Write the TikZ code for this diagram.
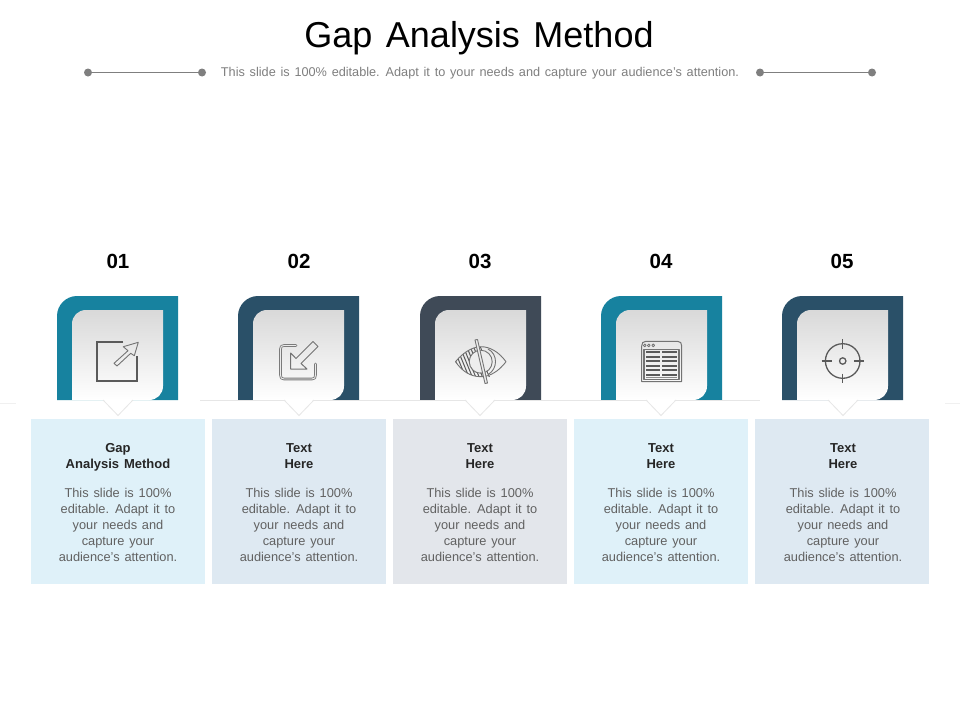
\documentclass[tikz,border=0pt]{standalone}
\usepackage{fontspec}
\setmainfont{Liberation Sans}[WordSpace=1.35]
\definecolor{teal}{HTML}{17829F}
\definecolor{navy}{HTML}{2A5068}
\definecolor{slate}{HTML}{3F4A57}
\definecolor{boxa}{HTML}{DFF1F9}
\definecolor{boxb}{HTML}{DEE9F2}
\definecolor{boxc}{HTML}{E3E6EB}
\definecolor{icon}{HTML}{5A5A5A}
\definecolor{rulegray}{HTML}{7F7F7F}
\definecolor{hair}{HTML}{E6E6E6}
\tikzset{
  x=1pt,y=-1pt,
  titletext/.style={font=\fontsize{36}{40}\selectfont,text=black,inner sep=0pt},
  subtext/.style={font=\fontsize{12.7}{14}\selectfont,text=rulegray,inner sep=0pt},
  numtext/.style={font=\fontsize{20.5}{24}\selectfont\bfseries,text=black,inner sep=0pt},
  headtext/.style={font=\fontsize{13}{16}\selectfont\bfseries,text=black!85,align=center,inner sep=0pt},
  bodytext/.style={font=\fontsize{12.8}{16}\selectfont,text=black!62,align=center,inner sep=0pt},
  dotnode/.style={circle,fill=rulegray,minimum size=8pt,inner sep=0pt},
  ruleline/.style={draw=rulegray,line width=1.1pt},
  hairline/.style={draw=hair,line width=0.8pt},
  iconbold/.style={draw=icon,line width=1.8pt},
  iconthin/.style={draw=icon!85,line width=0.9pt,line join=round},
}
\newcommand{\cardshape}[2]{% x, colour
  \fill[#2] (#1,400) -- (#1,316) .. controls (#1,305) and ({#1+9},296) .. ({#1+20},296)
    -- ({#1+121},296) -- ({#1+121},400) -- cycle;
  \path[top color=black!15,bottom color=white]
    ({#1+15},400) -- ({#1+15},324) .. controls ({#1+15},316) and ({#1+21},310) .. ({#1+29},310)
    -- ({#1+106},310) -- ({#1+106},386) .. controls ({#1+106},394) and ({#1+100},400) .. ({#1+92},400) -- cycle;
}
\newcommand{\notch}[1]{%
  \fill[white] ({#1-15},399) -- ({#1+15},399) -- (#1,415.5) -- cycle;
  \draw[hairline] ({#1-15},400) -- (#1,415.5) -- ({#1+15},400);
}
\begin{document}
\begin{tikzpicture}
\useasboundingbox (0,0) rectangle (960,720);
\fill[white] (0,0) rectangle (960,720);

\node[titletext] (title) at (479,38.5) {Gap Analysis Method};
\node[subtext] (sub) at (480,73.5) {This slide is 100\% editable. Adapt it to your needs and capture your audience's attention.};
\node[dotnode] (la) at (88,72.5) {};
\node[dotnode] (lb) at (202,72.5) {};
\node[dotnode] (ra) at (760,72.5) {};
\node[dotnode] (rb) at (872,72.5) {};
\draw[ruleline] (la) -- (lb);
\draw[ruleline] (ra) -- (rb);

\node[numtext] (n1) at (118,261.5) {01};
\node[numtext] (n2) at (299,261.5) {02};
\node[numtext] (n3) at (480,261.5) {03};
\node[numtext] (n4) at (661,261.5) {04};
\node[numtext] (n5) at (842,261.5) {05};

\cardshape{57}{teal}
\cardshape{238}{navy}
\cardshape{420}{slate}
\cardshape{601}{teal}
\cardshape{782}{navy}

% faint base line
\coordinate (ba) at (200,400);
\coordinate (bb) at (760,400);
\draw[hairline] (ba) -- (bb);
\draw[draw=black!6,line width=0.8pt] (0,403.3) -- (16,403.3);
\draw[draw=black!6,line width=0.8pt] (945,403.3) -- (960,403.3);
\notch{118}\notch{299}\notch{480}\notch{661}\notch{843}

% text boxes
\fill[boxa] (31,419) rectangle (205,584);
\fill[boxb] (212,419) rectangle (386,584);
\fill[boxc] (393,419) rectangle (567,584);
\fill[boxa] (574,419) rectangle (748,584);
\fill[boxb] (755,419) rectangle (929,584);

\node[headtext] (h1) at (118,457.5) {Gap\\Analysis Method};
\node[headtext] (h2) at (299,456.5) {Text\\Here};
\node[headtext] (h3) at (480,456.5) {Text\\Here};
\node[headtext] (h4) at (661,456.5) {Text\\Here};
\node[headtext] (h5) at (843,456.5) {Text\\Here};
\foreach \cx/\nm in {118/b1,299/b2,480/b3,661/b4,843/b5}
  \node[bodytext] (\nm) at (\cx,524.5) {This slide is 100\%\\editable. Adapt it to\\your needs and\\capture your\\audience's attention.};

% icon 1: open square with arrow
\draw[iconbold] (123,342) -- (97,342) -- (97,381) -- (137.3,381) -- (137.3,356);
\draw[iconthin] (138.3,342.3) -- (123.3,346.7) -- (128,350.7) -- (114,363.3) -- (117,366) -- (130.7,353.3) -- (134.3,355.7) -- cycle;

% icon 2: double outlined square and arrow
\draw[draw=icon!80,line width=2.6pt,line join=round,line cap=round] (296,345.5) -- (284,345.5) .. controls (281.5,345.5) and (280.5,346.5) .. (280.5,349) -- (280.5,375) .. controls (280.5,378) and (281.5,379) .. (284,379) -- (312,379) .. controls (314.5,379) and (315.5,378) .. (315.5,375) -- (315.5,364);
\draw[draw=black!8,line width=0.9pt,line join=round,line cap=round] (296,345.5) -- (284,345.5) .. controls (281.5,345.5) and (280.5,346.5) .. (280.5,349) -- (280.5,375) .. controls (280.5,378) and (281.5,379) .. (284,379) -- (312,379) .. controls (314.5,379) and (315.5,378) .. (315.5,375) -- (315.5,364);
\draw[iconthin,line width=1pt] (290.7,369) -- (290.7,353) -- (296,358.5) -- (313,341.5) -- (318,346.5) -- (301,363.5) -- (307,369) -- cycle;

% icon 3: eye with slash
\begin{scope}
  \clip (455.5,361.7) .. controls (466,349) and (476,346.7) .. (481,346.7) -- (490,377) -- (481,376.7) .. controls (470,376.7) and (462,371) .. (455.5,361.7) -- cycle;
  \foreach \i in {0,3.4,...,60}
    \draw[draw=icon,line width=1pt] ({430+\i},340) -- ({448+\i},384);
\end{scope}
\fill[black!7] (480.7,361.7) circle[radius=11];
\draw[iconthin] (455.5,361.7) .. controls (466,349) and (476,346.7) .. (481,346.7) .. controls (490,346.7) and (499,352) .. (506,361.7) .. controls (499,371) and (490,376.7) .. (481,376.7) .. controls (470,376.7) and (462,371) .. (455.5,361.7) -- cycle;
\draw[iconthin] (480.7,361.7) circle[radius=11.5];
\draw[iconthin] (488,349) .. controls (498,354) and (498,369) .. (488,374.5);
\draw[iconthin,fill=black!7] (475,340) -- (477.5,339.5) -- (487.5,383) -- (485,383.5) -- cycle;

% icon 4: browser window
\draw[iconthin,line width=1pt] (641.7,381.5) -- (641.7,346) .. controls (641.7,343) and (643,341.3) .. (646,341.3) -- (677.5,341.3) .. controls (680.5,341.3) and (681.7,343) .. (681.7,346) -- (681.7,381.5) -- cycle;
\foreach \dx in {644.8,648.8,653.2}
  \draw[iconthin,line width=0.8pt] (\dx,345.4) circle[radius=1.4];
\draw[iconthin,line width=1.3pt] (644,349.5) rectangle (679,379.5);
\foreach \ry in {352.3,356.8,361.3,365.8,370.3,374.8}
  \draw[draw=icon,line width=2pt] (646,\ry) -- (659.8,\ry) (662,\ry) -- (677,\ry);
\draw[draw=icon!70,line width=0.5pt] (646,377.5) -- (677,377.5);

% icon 5: target
\draw[draw=icon,line width=1.3pt] (842.7,361) circle[radius=17.3];
\draw[draw=icon,line width=1.3pt] (842.7,361) circle[radius=3.2];
\draw[draw=icon,line width=1.3pt] (842.7,339) -- (842.7,348.5) (842.7,373.5) -- (842.7,382.5)
   (821.7,361) -- (831.7,361) (854.3,361) -- (864.3,361);
\end{tikzpicture}
\end{document}
